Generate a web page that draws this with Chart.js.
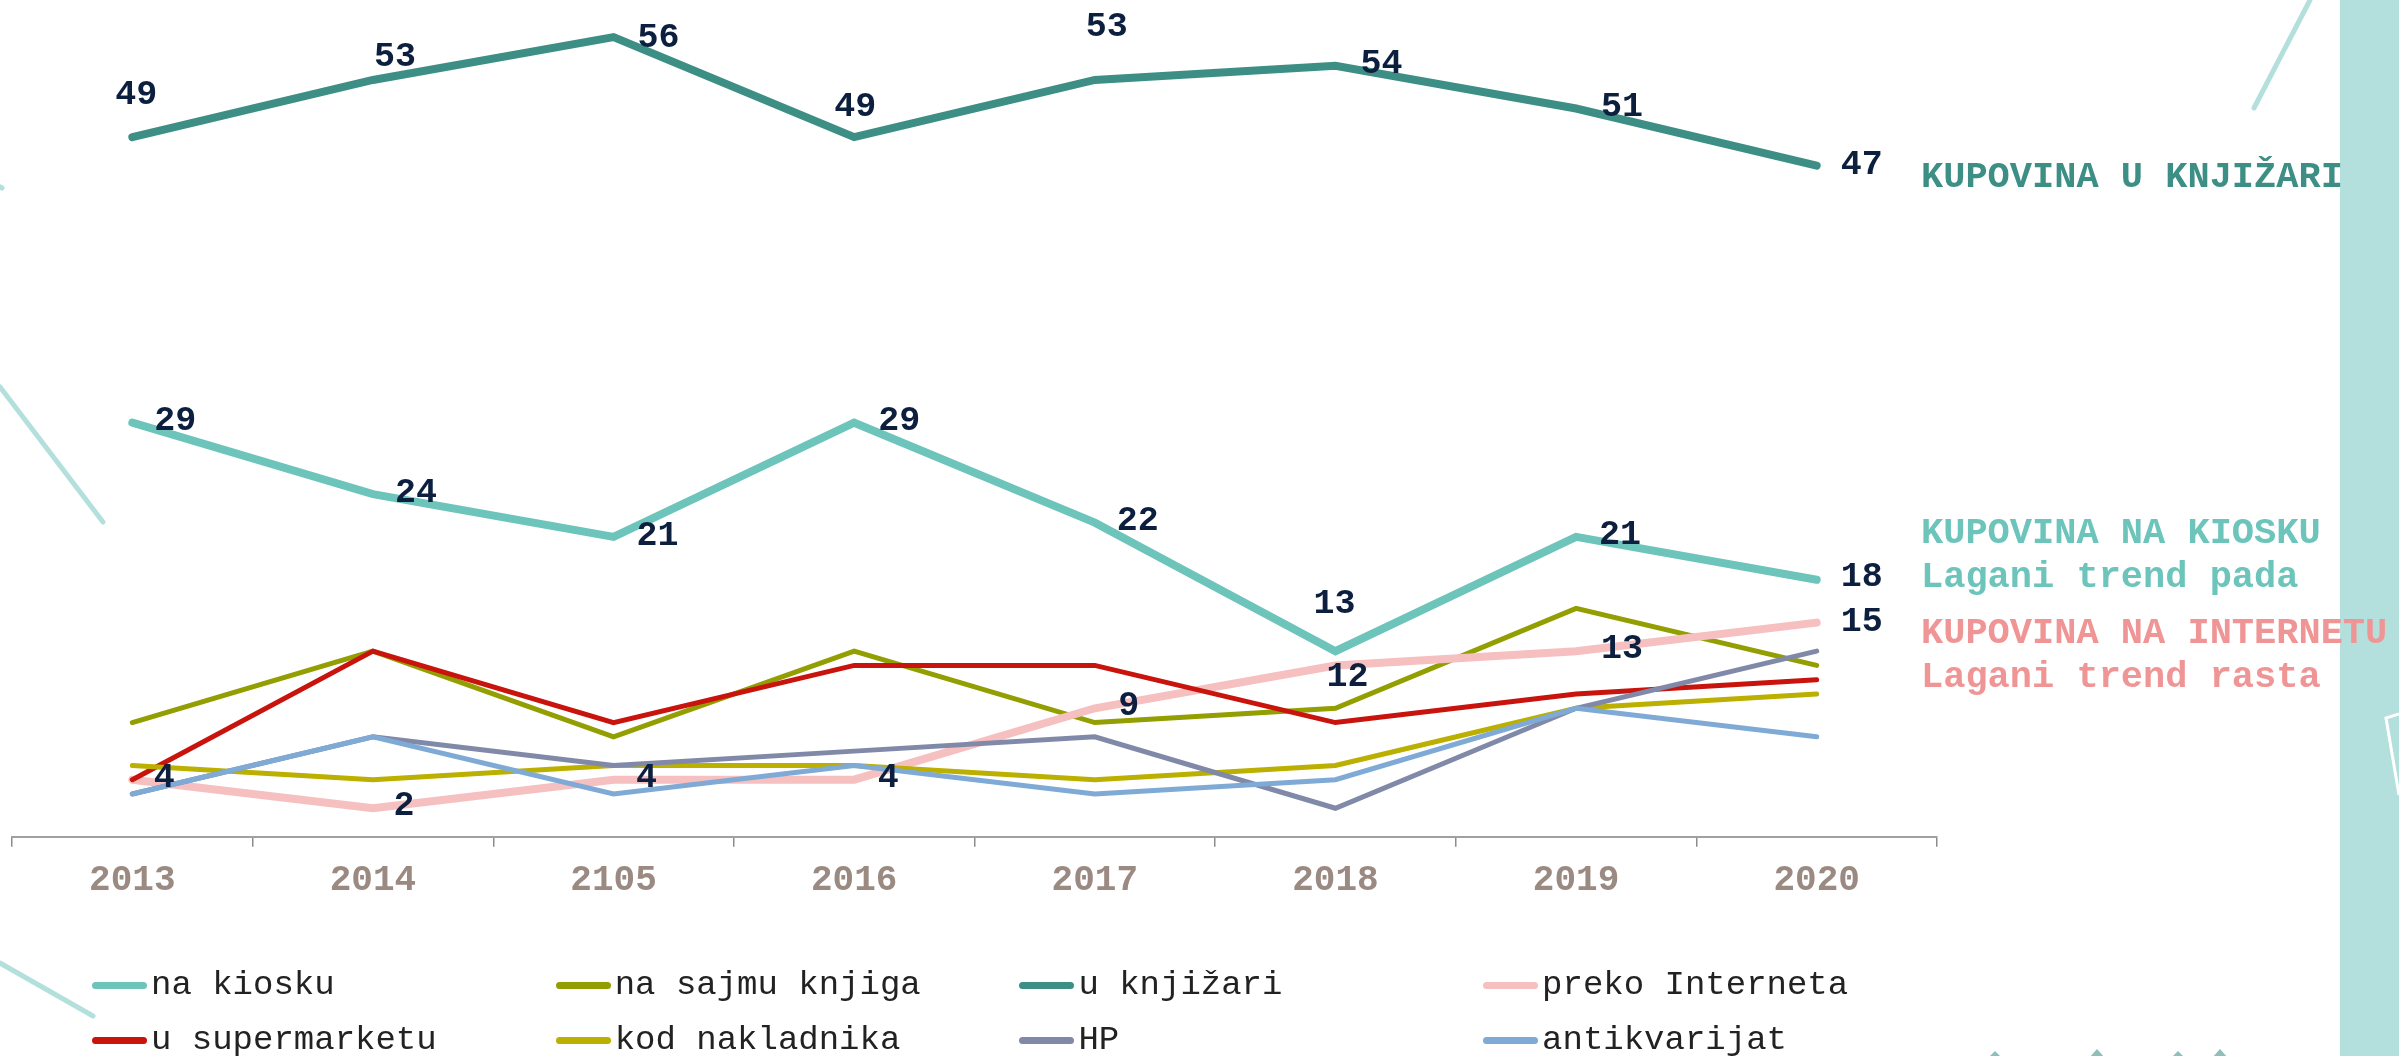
<!DOCTYPE html>
<html lang="hr">
  <head>
    <meta charset="UTF-8" />
    <title>Kupovina knjiga</title>
    <style>
      * {
        margin: 0;
        padding: 0;
        box-sizing: border-box;
      }

      body {
        width: 2399px;
        height: 1056px;
        overflow: hidden;
        background: white;
        font-family: "Liberation Mono", monospace;
      }

      .stage {
        position: relative;
        width: 2399px;
        height: 1056px;
      }

      .stage svg,
      .stage canvas {
        position: absolute;
        left: 0;
        top: 0;
      }

      .legend .item {
        position: absolute;
        display: flex;
        align-items: center;
        height: 40px;
        margin-top: -20px;
        font-size: 34px;
        color: #222;
        white-space: nowrap;
      }

      .legend .swatch {
        width: 55px;
        height: 7px;
        border-radius: 4px;
        margin-right: 4px;
      }
    </style>
  </head>
  <body>
    <div class="stage">
      <svg width="2399" height="1056">
        <g stroke="#b3e0dc" stroke-width="5" stroke-linecap="round" fill="none">
          <line x1="0" y1="387" x2="103" y2="522" />
          <line x1="-8" y1="182" x2="2" y2="188" />
          <line x1="0" y1="963" x2="93" y2="1016" />
          <line x1="2310" y1="0" x2="2254" y2="108" />
        </g>
        <rect x="2340" y="0" width="59" height="1056" fill="#b3e0dc" />
        <polyline points="2399,714 2386,718 2399,795" stroke="white" stroke-width="3" fill="none" />
        <g fill="#8dbfbb">
          <polygon points="1995,1051 1988,1058 2002,1058" />
          <polygon points="2097,1049 2089,1058 2105,1058" />
          <polygon points="2178,1051 2171,1058 2185,1058" />
          <polygon points="2220,1049 2212,1058 2228,1058" />
        </g>
      </svg>
      <canvas id="myChart" width="2399" height="1056"></canvas>
      <div class="legend" id="legend"></div>
    </div>

    <script src="https://cdn.jsdelivr.net/npm/chart.js"></script>

    <script>
      const years = ["2013", "2014", "2105", "2016", "2017", "2018", "2019", "2020"];

      const seriesNames = [
        "na kiosku",
        "na sajmu knjiga",
        "u knjižari",
        "preko Interneta",
        "u supermarketu",
        "kod nakladnika",
        "HP",
        "antikvarijat",
      ];

      const naKiosku = [29, 24, 21, 29, 22, 13, 21, 18];
      const naSajmuKnjiga = [8, 13, 7, 13, 8, 9, 16, 12];
      const uKnjizari = [49, 53, 56, 49, 53, 54, 51, 47];
      const prekoInterneta = [4, 2, 4, 4, 9, 12, 13, 15];
      const uSupermarketu = [4, 13, 8, 12, 12, 8, 10, 11];
      const kodNakladnika = [5, 4, 5, 5, 4, 5, 9, 10];
      const hp = [3, 7, 5, 6, 7, 2, 9, 13];
      const antikvarijat = [3, 7, 3, 5, 3, 4, 9, 7];

      const colors = [
        "#6cc4bb",
        "#939e00",
        "#3d8f86",
        "#f6bfc0",
        "#c8140c",
        "#bbb000",
        "#8089a8",
        "#7faad6",
      ];
      const widths = [8, 5, 8, 8, 5, 5, 5, 5];

      // label offsets from the point, in px (only three series carry labels)
      const labelOffsets = {
        0: [[43, -1], [43, -1], [44, -1], [45, -1], [43, -1], [-1, -47], [44, -2], [45, -3]],
        2: [[4, -42], [22, -23], [45, 1], [1, -30], [12, -53], [46, -1], [46, -1], [45, 0]],
        3: [[32, -1], [31, -2], [33, -1], [34, -1], [34, -2], [12, 12], [46, -2], [45, 0]],
      };

      const allSeries = [
        naKiosku,
        naSajmuKnjiga,
        uKnjizari,
        prekoInterneta,
        uSupermarketu,
        kodNakladnika,
        hp,
        antikvarijat,
      ];

      const datasets = allSeries.map((values, i) => ({
        label: seriesNames[i],
        data: values,
        borderColor: colors[i],
        backgroundColor: colors[i],
        borderWidth: widths[i],
        borderCapStyle: "round",
        pointRadius: 0,
        tension: 0,
        order: allSeries.length - i,
      }));

      const pointLabels = {
        id: "pointLabels",
        afterDatasetsDraw(chart) {
          const { ctx } = chart;
          ctx.save();
          ctx.font = "bold 35px 'Liberation Mono'";
          ctx.fillStyle = "#0d1f3f";
          ctx.textAlign = "center";
          ctx.textBaseline = "middle";
          Object.keys(labelOffsets).forEach((key) => {
            const idx = Number(key);
            const meta = chart.getDatasetMeta(idx);
            meta.data.forEach((pt, j) => {
              const off = labelOffsets[idx][j];
              ctx.fillText(String(allSeries[idx][j]), pt.x + off[0], pt.y + off[1]);
            });
          });
          ctx.restore();
        },
      };

      const sideNotes = {
        id: "sideNotes",
        afterDraw(chart) {
          const { ctx } = chart;
          const notes = [
            ["KUPOVINA U KNJIŽARI", "#3d8f86", 187],
            ["KUPOVINA NA KIOSKU", "#6cc4bb", 543],
            ["Lagani trend pada", "#6cc4bb", 587],
            ["KUPOVINA NA INTERNETU", "#f09595", 643],
            ["Lagani trend rasta", "#f09595", 687],
          ];
          ctx.save();
          ctx.font = "bold 37px 'Liberation Mono'";
          ctx.textAlign = "left";
          ctx.textBaseline = "alphabetic";
          notes.forEach(([text, color, y]) => {
            ctx.fillStyle = color;
            ctx.fillText(text, 1921, y);
          });
          ctx.restore();
        },
      };

      const config = {
        type: "line",
        data: { labels: years, datasets: datasets },
        options: {
          responsive: false,
          animation: false,
          devicePixelRatio: 1,
          layout: {
            padding: { left: 12, right: 462, top: 0, bottom: 140 },
          },
          plugins: {
            legend: { display: false },
            tooltip: { enabled: false },
          },
          scales: {
            x: {
              offset: true,
              grid: {
                offset: true,
                drawOnChartArea: false,
                drawTicks: true,
                tickLength: 10,
                color: "#8c8c8c",
                lineWidth: 1.5,
              },
              border: { display: true, color: "#a0a0a0", width: 2 },
              ticks: {
                padding: 13,
                color: "#9a8a82",
                font: { family: "'Liberation Mono'", size: 36, weight: "bold" },
              },
            },
            y: {
              display: false,
              min: 0,
              max: 58.6,
            },
          },
        },
        plugins: [pointLabels, sideNotes],
      };

      const myChart = new Chart(document.getElementById("myChart"), config);

      // legend: 4 columns x 2 rows
      const legend = document.getElementById("legend");
      seriesNames.forEach((name, i) => {
        const col = i % 4;
        const row = Math.floor(i / 4);
        const item = document.createElement("div");
        item.className = "item";
        item.style.left = 92 + col * 463.7 + "px";
        item.style.top = (row ? 1040 : 985) + "px";
        const sw = document.createElement("span");
        sw.className = "swatch";
        sw.style.background = colors[i];
        const tx = document.createElement("span");
        tx.textContent = name;
        item.appendChild(sw);
        item.appendChild(tx);
        legend.appendChild(item);
      });
    </script>
  </body>
</html>
